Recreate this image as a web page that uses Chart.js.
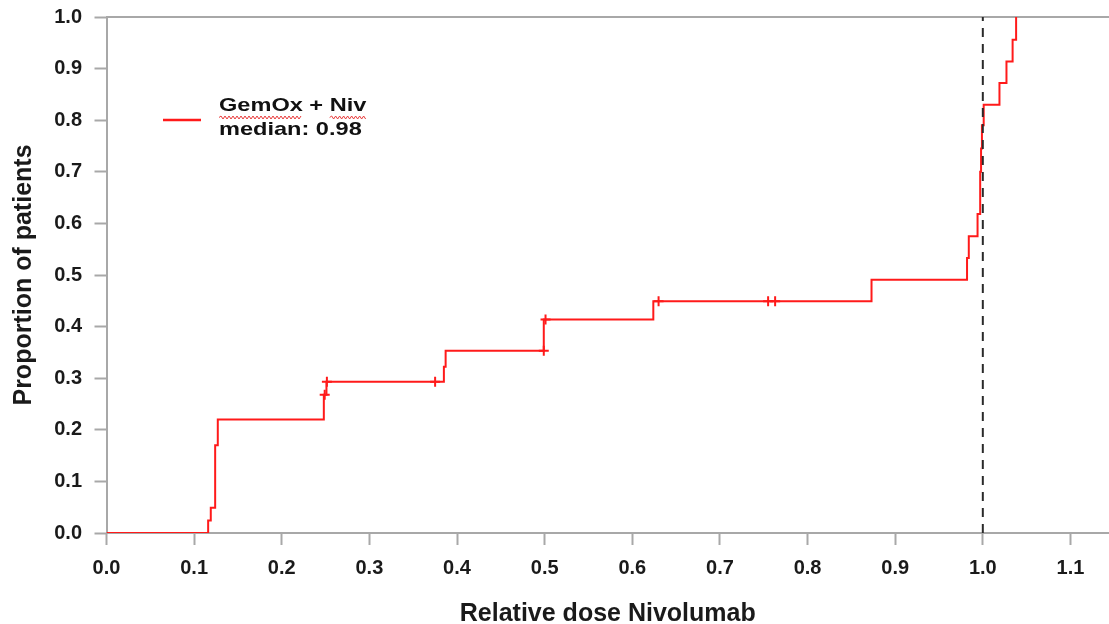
<!DOCTYPE html>
<html>
<head>
<meta charset="utf-8">
<title>Relative dose Nivolumab</title>
<script src="https://cdn.jsdelivr.net/npm/chart.js@4.4.1/dist/chart.umd.min.js"></script>
<style>
  html, body { margin: 0; padding: 0; background: #fff; }
  #wrap { width: 1109px; height: 624px; position: relative; }
</style>
</head>
<body>
<div id="wrap"><canvas id="chart"></canvas></div>
<script>
"use strict";

// cumulative curve: dose where a step happens and the level reached after it
let doseSteps = [0, 0.116, 0.119, 0.124, 0.127, 0.248, 0.251, 0.385, 0.387, 0.499, 0.624, 0.873,
  0.982, 0.984, 0.994, 0.997, 0.998, 0.999, 1.001, 1.019, 1.027, 1.034, 1.038];
let proportion = [0, 0.024, 0.049, 0.17, 0.22, 0.268, 0.293, 0.322, 0.353, 0.414, 0.449, 0.491,
  0.533, 0.575, 0.618, 0.70, 0.745, 0.79, 0.83, 0.872, 0.914, 0.956, 1.0];

// censored patients (+ marks)
let censorDose = [0.249, 0.2515, 0.375, 0.499, 0.501, 0.630, 0.755, 0.763];
let censorLevel = [0.268, 0.293, 0.293, 0.353, 0.414, 0.449, 0.449, 0.449];

let referenceDose = 1.0;
let seriesName = "GemOx + Niv";
let medianText = "median: 0.98";
let xTitle = "Relative dose Nivolumab";
let yTitle = "Proportion of patients";

let curveColor = "#ff1a1a";
let axisColor = "#a8a8a8";
let textColor = "#1a1a1a";
let fontFamily = "'Liberation Sans', Arial, sans-serif";

Chart.defaults.font.family = fontFamily;

function points(xs, ys) {
  let out = [];
  for (let i = 0; i < xs.length; i++) {
    out.push({ x: xs[i], y: ys[i] });
  }
  return out;
}

// red wavy underline under a word
function squiggle(ctx, x0, x1, y) {
  ctx.beginPath();
  ctx.moveTo(x0, y);
  let up = true;
  for (let x = x0 + 2; x <= x1; x += 2) {
    ctx.lineTo(x, up ? y - 1.5 : y + 1.5);
    up = !up;
  }
  ctx.stroke();
}

// legend sits inside the plot, upper left
let legendPlugin = {
  id: "legendBox",
  afterDraw(chart) {
    let ctx = chart.ctx;
    let left = chart.chartArea.left;
    let stretch = 1.24;
    let tx = left + 112.5;
    ctx.save();
    ctx.strokeStyle = curveColor;
    ctx.lineWidth = 2.5;
    ctx.beginPath();
    ctx.moveTo(left + 56.5, 120);
    ctx.lineTo(left + 94.5, 120);
    ctx.stroke();

    ctx.font = "bold 19px " + fontFamily;
    ctx.fillStyle = "#111";
    ctx.textBaseline = "alphabetic";
    ctx.textAlign = "left";
    let lines = [[seriesName, 111], [medianText, 135]];
    for (let i = 0; i < lines.length; i++) {
      ctx.save();
      ctx.translate(tx, lines[i][1]);
      ctx.scale(stretch, 1);
      ctx.fillText(lines[i][0], 0, 0);
      ctx.restore();
    }

    // spell-check marks under the two abbreviations
    let words = seriesName.split(" ");
    let first = ctx.measureText(words[0]).width * stretch;
    let lead = ctx.measureText(words[0] + " " + words[1] + " ").width * stretch;
    let last = ctx.measureText(words[2]).width * stretch;
    ctx.strokeStyle = "#e83a3a";
    ctx.lineWidth = 1;
    squiggle(ctx, tx, tx + first, 117.5);
    squiggle(ctx, tx + lead, tx + lead + last, 117.5);
    ctx.restore();
  }
};

// top frame line
let frameTop = {
  id: "frameTop",
  beforeDatasetsDraw(chart) {
    let ctx = chart.ctx;
    let a = chart.chartArea;
    ctx.save();
    ctx.strokeStyle = axisColor;
    ctx.lineWidth = 2;
    ctx.beginPath();
    ctx.moveTo(a.left, a.top);
    ctx.lineTo(a.right, a.top);
    ctx.stroke();
    ctx.restore();
  }
};

let tickFont = { size: 20, weight: "bold" };

let ctx = document.getElementById("chart").getContext("2d");
let myChart = new Chart(ctx, {
  type: "line",
  data: {
    datasets: [
      {
        label: "reference",
        data: [{ x: referenceDose, y: 0 }, { x: referenceDose, y: 1 }],
        borderColor: "#2a2a2a",
        borderWidth: 2,
        borderDash: [9, 7],
        pointRadius: 0,
        order: 0
      },
      {
        label: seriesName,
        data: points(doseSteps, proportion),
        stepped: true,
        borderColor: curveColor,
        borderWidth: 2,
        pointRadius: 0,
        fill: false,
        order: 1
      },
      {
        label: "censored",
        type: "scatter",
        data: points(censorDose, censorLevel),
        pointStyle: "cross",
        pointRadius: 5,
        borderColor: curveColor,
        borderWidth: 2,
        order: 2
      }
    ]
  },
  options: {
    responsive: true,
    maintainAspectRatio: false,
    animation: false,
    layout: { autoPadding: false, padding: { top: 17, right: 0, bottom: 0, left: 0 } },
    plugins: {
      legend: { display: false },
      tooltip: { enabled: false }
    },
    scales: {
      x: {
        type: "linear",
        min: 0,
        max: 1.144,
        ticks: {
          stepSize: 0.1,
          includeBounds: false,
          color: textColor,
          font: tickFont,
          padding: 11,
          maxRotation: 0,
          callback: (v) => v.toFixed(1)
        },
        grid: { drawOnChartArea: false, drawTicks: true, tickLength: 12, tickColor: axisColor, tickWidth: 2 },
        border: { display: true, color: axisColor, width: 2 },
        title: {
          display: true,
          text: xTitle,
          color: textColor,
          font: { size: 25, weight: "bold", lineHeight: 1 },
          padding: { top: 0, bottom: -3 }
        },
        afterFit(scale) {
          scale.height = 91;
          scale.paddingLeft = 0;
          scale.paddingRight = 0;
        }
      },
      y: {
        min: 0,
        max: 1,
        ticks: {
          stepSize: 0.1,
          color: textColor,
          font: tickFont,
          padding: 12.5,
          callback: (v) => v.toFixed(1)
        },
        grid: { drawOnChartArea: false, drawTicks: true, tickLength: 12, tickColor: axisColor, tickWidth: 2 },
        border: { display: true, color: axisColor, width: 2 },
        title: {
          display: true,
          text: yTitle,
          color: textColor,
          font: { size: 25, weight: "bold", lineHeight: 1.2 },
          padding: { top: 9, bottom: 0 }
        },
        afterFit(scale) {
          scale.width = 106.5;
          scale.paddingTop = 0;
          scale.paddingBottom = 0;
        }
      }
    }
  },
  plugins: [frameTop, legendPlugin]
});
</script>
</body>
</html>
